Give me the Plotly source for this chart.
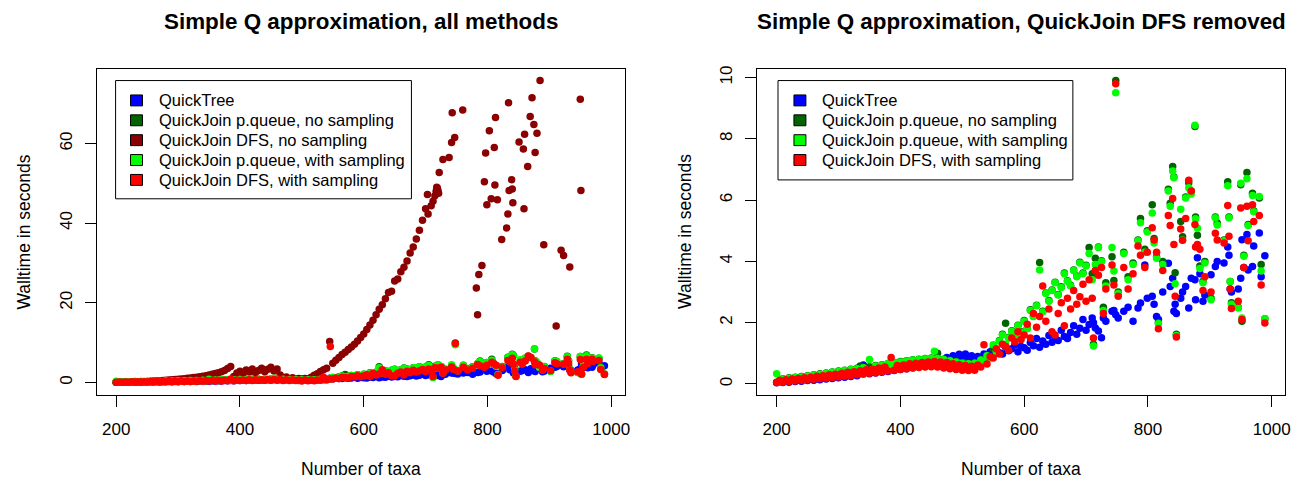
import plotly.graph_objects as go

# page is rendered with an 8px body margin, so the figure is placed at (8, 8)
OFF = 8
FW, FH = 1299 - OFF, 478 - OFF

# ---------------- data ----------------
# dense part: tree sizes 200..700 taxa
x_dense = [200, 205, 210, 215, 220, 225, 230, 235, 240, 245,
           250, 255, 260, 265, 270, 275, 280, 285, 290, 295,
           300, 305, 310, 315, 320, 325, 330, 335, 340, 345,
           350, 355, 360, 365, 370, 375, 380, 385, 390, 395,
           400, 405, 410, 415, 420, 425, 430, 435, 440, 445,
           450, 455, 460, 465, 470, 475, 480, 485, 490, 495,
           500, 505, 510, 515, 520, 525, 530, 535, 540, 545,
           550, 555, 560, 565, 570, 575, 580, 585, 590, 595,
           600, 605, 610, 615, 620, 625, 630, 635, 640, 645,
           650, 655, 660, 665, 670, 675, 680, 685, 690, 695,
           700]

quicktree_dense = [0.04, 0.08, 0.05, 0.10, 0.06, 0.12, 0.08, 0.13, 0.09, 0.15,
                   0.11, 0.17, 0.12, 0.19, 0.14, 0.21, 0.16, 0.23, 0.18, 0.25,
                   0.20, 0.28, 0.22, 0.30, 0.24, 0.33, 0.27, 0.36, 0.62, 0.38,
                   0.33, 0.41, 0.36, 0.44, 0.38, 0.47, 0.41, 0.50, 0.44, 0.53,
                   0.47, 0.56, 0.50, 0.59, 0.53, 0.62, 0.56, 0.65, 0.59, 0.68,
                   0.62, 0.72, 0.66, 0.78, 0.72, 0.86, 0.80, 0.92, 0.85, 0.97,
                   0.90, 0.98, 0.84, 0.92, 0.80, 0.90, 0.84, 0.98, 0.90, 1.05,
                   0.95, 1.12, 1.02, 0.98, 1.20, 1.08, 1.15, 1.28, 1.05, 1.22,
                   1.18, 1.10, 1.35, 1.25, 1.48, 1.20, 1.40, 1.30, 1.58, 1.36,
                   1.50, 1.42, 1.75, 1.55, 1.48, 1.68, 1.90, 1.62, 1.82, 2.10,
                   1.75]

pq_nosamp_dense = [0.06, 0.11, 0.17, 0.12, 0.20, 0.14, 0.22, 0.16, 0.24, 0.18,
                   0.27, 0.20, 0.30, 0.22, 0.33, 0.25, 0.36, 0.28, 0.39, 0.30,
                   0.42, 0.33, 0.45, 0.36, 0.48, 0.39, 0.51, 0.59, 0.54, 0.45,
                   0.56, 0.48, 0.60, 0.51, 0.63, 0.54, 0.67, 0.57, 0.70, 0.60,
                   0.73, 0.63, 0.76, 0.66, 0.79, 0.68, 0.81, 0.70, 0.83, 0.72,
                   0.85, 0.74, 1.00, 0.71, 0.81, 0.68, 0.77, 0.64, 0.73, 0.61,
                   0.69, 0.58, 0.67, 0.57, 0.69, 0.61, 0.79, 0.71, 0.93, 0.86,
                   1.15, 1.07, 1.42, 1.62, 1.98, 1.52, 1.74, 1.57, 1.92, 1.70,
                   2.07, 1.82, 2.42, 2.22, 2.57, 3.96, 2.37, 2.97, 2.72, 3.07,
                   3.32, 2.92, 3.17, 3.62, 3.37, 3.22, 3.72, 3.52, 3.97, 3.62,
                   3.87]

dfs_nosamp_dense = [0.04, 0.05, 0.06, 0.08, 0.10, 0.12, 0.14, 0.17, 0.20, 0.23,
                    0.26, 0.30, 0.34, 0.38, 0.43, 0.48, 0.54, 0.60, 0.66, 0.73,
                    0.80, 0.88, 0.96, 1.05, 1.14, 1.24, 1.34, 1.45, 1.56, 1.68,
                    1.90, 2.05, 2.25, 2.45, 2.70, 3.00, 3.50, 4.00, 1.50, 2.40,
                    2.80, 2.20, 3.10, 2.60, 3.40, 2.50, 3.00, 3.60, 2.70, 3.30,
                    3.80, 2.90, 3.40, 1.90, 1.10, 1.40, 0.90, 1.20, 0.70, 0.50,
                    0.45, 0.60, 0.90, 1.30, 1.80, 2.20, 2.75, 3.20, 3.60, 10.30,
                    4.80, 5.60, 6.30, 7.00, 7.60, 8.30, 8.90, 9.60, 10.40, 11.30,
                    12.20, 13.30, 14.40, 15.60, 17.00, 18.40, 19.50, 21.00, 22.60, 22.90,
                    25.50, 26.00, 27.80, 28.90, 30.50, 32.50, 34.00, 36.00, 38.20, 40.70,
                    43.60]

pq_samp_dense = [0.33, 0.10, 0.16, 0.11, 0.19, 0.13, 0.21, 0.15, 0.23, 0.17,
                 0.26, 0.19, 0.29, 0.21, 0.32, 0.24, 0.35, 0.27, 0.38, 0.29,
                 0.41, 0.32, 0.44, 0.35, 0.47, 0.38, 0.50, 0.41, 0.53, 0.44,
                 0.80, 0.47, 0.59, 0.50, 0.62, 0.53, 0.66, 0.56, 0.69, 0.59,
                 0.72, 0.62, 0.75, 0.65, 0.78, 0.67, 0.80, 0.69, 0.82, 0.71,
                 0.84, 1.07, 0.83, 0.70, 0.80, 0.67, 0.76, 0.63, 0.72, 0.60,
                 0.68, 0.57, 0.66, 0.56, 0.68, 0.60, 0.78, 0.70, 0.92, 0.85,
                 1.28, 1.05, 1.40, 1.60, 1.30, 1.50, 1.72, 1.55, 1.90, 1.68,
                 2.05, 1.80, 2.40, 2.20, 2.55, 3.72, 2.35, 2.95, 2.70, 3.05,
                 3.30, 2.90, 3.15, 3.60, 3.35, 3.20, 3.70, 3.50, 3.95, 3.60,
                 3.85]

dfs_samp_dense = [0.05, 0.12, 0.06, 0.14, 0.08, 0.16, 0.10, 0.18, 0.11, 0.20,
                  0.13, 0.22, 0.15, 0.25, 0.17, 0.27, 0.19, 0.30, 0.21, 0.32,
                  0.23, 0.35, 0.25, 0.38, 0.27, 0.40, 0.30, 0.43, 0.32, 0.46,
                  0.35, 0.48, 0.37, 0.52, 0.40, 0.55, 0.42, 0.86, 0.45, 0.60,
                  0.47, 0.62, 0.50, 0.66, 0.52, 0.68, 0.54, 0.70, 0.55, 0.72,
                  0.56, 0.73, 0.55, 0.72, 0.52, 0.70, 0.50, 0.66, 0.47, 0.63,
                  0.45, 0.60, 0.44, 0.58, 0.45, 0.62, 0.55, 1.28, 0.65, 0.90,
                  0.85, 1.15, 0.98, 1.30, 1.22, 1.10, 1.50, 1.38, 1.70, 1.45,
                  1.60, 1.95, 1.50, 2.30, 1.85, 2.20, 3.20, 2.05, 2.45, 1.70,
                  1.60, 2.30, 2.65, 1.90, 2.80, 2.45, 3.05, 2.60, 2.85, 3.25,
                  2.70]

# sparse part: tree sizes above 700 taxa
x_sparse = [705, 710, 712, 715, 720, 725, 728, 732, 742, 745, 748, 752,
            761, 768, 776, 784, 788, 795, 799, 807, 810, 814, 817, 824,
            833, 836, 840, 842, 844, 846, 853, 856, 861, 866, 870, 876,
            877, 880, 884, 889, 892, 902, 909, 912, 923, 929, 931, 933,
            935, 946, 950, 952, 955, 960, 962, 969, 971, 980, 983, 989]

quicktree_sparse = [1.94, 2.15, 2.00, 1.83, 1.73, 1.51, 2.15, 2.05, 2.37, 2.40, 2.26, 2.15,
                    2.37, 2.50, 2.05, 2.48, 2.64, 3.88, 2.80, 2.86, 2.60, 2.20, 2.10, 3.00,
                    3.94, 3.18, 3.45, 2.37, 2.60, 2.30, 2.80, 3.00, 3.18, 2.48, 3.45, 3.40,
                    2.75, 4.12, 3.60, 2.70, 2.90, 3.56, 3.83, 4.00, 3.95, 4.47, 4.20, 3.10,
                    3.00, 3.10, 3.45, 4.71, 3.80, 4.88, 3.72, 3.83, 4.50, 4.93, 3.50, 4.18]

pq_nosamp_sparse = [4.45, 3.60, 1.30, 4.10, 4.47, 4.02, 2.50, 3.30, 4.15, 3.38, 9.90, 3.00,
                    4.30, 3.50, 3.95, 4.70, 5.40, 4.40, 5.00, 5.85, 4.75, 4.15, 2.00, 4.00,
                    6.35, 5.90, 7.10, 6.75, 3.63, 1.62, 5.30, 4.80, 6.10, 6.57, 6.30, 8.40,
                    5.45, 4.85, 3.85, 3.35, 4.00, 2.80, 5.45, 5.25, 4.70, 6.60, 5.45, 3.34,
                    2.65, 2.50, 6.50, 2.05, 4.20, 6.90, 5.20, 6.22, 5.65, 6.07, 3.90, 2.13]

pq_samp_sparse = [4.26, 3.40, 1.24, 3.90, 4.45, 4.00, 2.40, 3.20, 4.45, 3.69, 9.50, 2.95,
                  4.26, 3.40, 3.90, 4.67, 5.26, 4.30, 4.96, 5.58, 4.60, 4.10, 1.97, 3.90,
                  6.30, 5.80, 6.95, 6.73, 3.27, 1.58, 5.70, 4.70, 6.07, 6.40, 6.20, 8.44,
                  5.39, 5.08, 3.77, 3.30, 3.95, 2.75, 5.42, 5.19, 4.67, 6.47, 5.42, 3.34,
                  2.60, 2.48, 6.55, 2.15, 4.17, 6.70, 5.17, 6.15, 5.62, 6.12, 3.69, 2.13]

dfs_samp_sparse = [3.40, 2.80, 1.50, 3.70, 3.55, 3.80, 2.30, 3.10, 3.88, 3.23, 9.80, 2.86,
                   3.80, 3.10, 3.60, 4.50, 4.20, 3.80, 4.30, 5.10, 4.70, 4.30, 1.80, 3.70,
                   5.50, 5.17, 6.05, 4.55, 2.86, 1.53, 5.06, 4.69, 5.40, 6.65, 6.30, 5.20,
                   4.47, 4.55, 4.40, 3.05, 3.50, 3.00, 4.92, 4.70, 4.60, 5.82, 4.82, 3.10,
                   2.46, 2.70, 5.74, 2.10, 3.80, 5.80, 4.67, 5.85, 5.30, 5.50, 3.23, 1.99]

# DFS without sampling above 700 taxa (only runs that finished)
dfs_nosamp_x_tail = [703, 704, 709, 712, 715, 717, 718, 719, 720, 721, 722, 728, 738, 742,
                     743, 747, 760, 782, 784, 786, 791, 795, 797, 799, 803, 806, 811,
                     812, 813, 816, 823, 831, 833, 834, 835, 839, 840, 841, 851, 858,
                     859, 860, 865, 869, 872, 875, 877, 880, 885, 891, 911, 919, 923,
                     933, 950, 951]
dfs_nosamp_y_tail = [47.2, 42.3, 44.4, 45.5, 46.9, 48.0, 49.0, 48.75, 48.2, 47.5, 52.75, 56.0,
                     56.5, 60.25, 67.75, 61.5, 68.4, 23.75, 17.0, 27.1, 29.4, 50.4, 57.6,
                     44.6, 63.2, 46.1, 59.0, 49.6, 66.5, 45.9, 35.9, 38.8, 42.3, 70.25,
                     48.2, 50.9, 48.6, 45.1, 60.4, 58.6, 43.6, 62.3, 54.2, 66.75, 71.5,
                     64.8, 57.75, 62.6, 75.8, 34.6, 14.2, 33.2, 31.9, 29.0, 71.1, 48.2]

# one DFS-with-sampling run that only appears in the left panel
dfs_samp_left_extra_x = [546]
dfs_samp_left_extra_y = [9.0]

series_names = ["QuickTree",
                "QuickJoin p.queue, no sampling",
                "QuickJoin DFS, no sampling",
                "QuickJoin p.queue, with sampling",
                "QuickJoin DFS, with sampling"]
series_colors = ["#0000FF", "#006400", "#8B0000", "#00FF00", "#FF0000"]

panel_titles = ["Simple Q approximation, all methods",
                "Simple Q approximation, QuickJoin DFS removed"]
x_label = "Number of taxa"
y_label = "Walltime in seconds"
x_ticks = [200, 400, 600, 800, 1000]
y_ticks_left = [0, 20, 40, 60]
y_ticks_right = [0, 2, 4, 6, 8, 10]

# ---------------- figure ----------------
FONT = "Liberation Sans, Arial, Helvetica, sans-serif"
MSIZE = 7.5

x_all = x_dense + x_sparse
qt_all = quicktree_dense + quicktree_sparse
pqns_all = pq_nosamp_dense + pq_nosamp_sparse
pqs_all = pq_samp_dense + pq_samp_sparse
dfss_all = dfs_samp_dense + dfs_samp_sparse
dfsns_x = x_dense + dfs_nosamp_x_tail
dfsns_y = dfs_nosamp_dense + dfs_nosamp_y_tail

left_data = [
    (x_all, qt_all, 0),
    (x_all, pqns_all, 1),
    (dfsns_x, dfsns_y, 2),
    (x_all, pqs_all, 3),
    (x_all + dfs_samp_left_extra_x, dfss_all + dfs_samp_left_extra_y, 4),
]
right_data = [
    (x_all, qt_all, 0),
    (x_all, pqns_all, 1),
    (x_all, pqs_all, 3),
    (x_all, dfss_all, 4),
]

fig = go.Figure()
for xs, ys, k in left_data:
    fig.add_trace(go.Scatter(x=xs, y=ys, mode="markers", name=series_names[k],
                             marker=dict(color=series_colors[k], size=MSIZE, line=dict(width=0)),
                             xaxis="x", yaxis="y", showlegend=False))
for xs, ys, k in right_data:
    fig.add_trace(go.Scatter(x=xs, y=ys, mode="markers", name=series_names[k],
                             marker=dict(color=series_colors[k], size=MSIZE, line=dict(width=0)),
                             xaxis="x2", yaxis="y2", showlegend=False))

# screen pixel -> paper coordinate
def px2x(px):
    return (px - OFF) / FW

def py2y(py):
    return 1 - (py - OFF) / FH

box_top, box_bot = 66, 394
panels = [(97, 627), (760, 1290)]

axis_common = dict(showline=True, mirror=True, linecolor="black", linewidth=1,
                   ticks="outside", ticklen=11, tickwidth=1, tickcolor="black",
                   showgrid=False, zeroline=False,
                   tickfont=dict(family=FONT, size=17, color="black"))

fig.update_layout(
    width=FW, height=FH, autosize=False,
    margin=dict(l=0, r=0, t=0, b=0),
    paper_bgcolor="white", plot_bgcolor="white",
    font=dict(family=FONT, color="black"),
    xaxis=dict(domain=[px2x(97), px2x(627)], range=[168.4, 1021.6], anchor="y",
               tickvals=x_ticks, ticklabelstandoff=8, **axis_common),
    yaxis=dict(domain=[py2y(box_bot), py2y(box_top)], range=[-3.03, 78.8], anchor="x",
               tickvals=y_ticks_left, tickangle=-90, ticklabelstandoff=6, **axis_common),
    xaxis2=dict(domain=[px2x(760), px2x(1290)], range=[168.4, 1021.6], anchor="y2",
                tickvals=x_ticks, ticklabelstandoff=8, **axis_common),
    yaxis2=dict(domain=[py2y(box_bot), py2y(box_top)], range=[-0.345, 10.29], anchor="x2",
                tickvals=y_ticks_right, tickangle=-90, ticklabelstandoff=6, **axis_common),
)

annotations = []
shapes = []
for i, (x0, x1) in enumerate(panels):
    cx = (x0 + x1) / 2
    annotations.append(dict(text="<b>%s</b>" % panel_titles[i], x=px2x(cx), y=py2y(19),
                            xref="paper", yref="paper", xanchor="center", yanchor="middle",
                            showarrow=False, font=dict(family=FONT, size=22.4, color="black")))
    annotations.append(dict(text=x_label, x=px2x(cx), y=py2y(469),
                            xref="paper", yref="paper", xanchor="center", yanchor="middle",
                            showarrow=False, font=dict(family=FONT, size=17.5, color="black")))
    annotations.append(dict(text=y_label, x=px2x(x0 - 73), y=py2y((box_top + box_bot) / 2),
                            xref="paper", yref="paper", xanchor="center", yanchor="middle",
                            textangle=-90, showarrow=False,
                            font=dict(family=FONT, size=17.5, color="black")))

# R-style legends (filled squares with black outline inside a framed box)
legend_specs = [
    dict(box=(116, 413, 78, 197), sq_x=131, txt_x=158, items=[0, 1, 2, 3, 4]),
    dict(box=(781, 1077, 78, 178), sq_x=797, txt_x=823, items=[0, 1, 3, 4]),
]
for spec in legend_specs:
    bx0, bx1, by0, by1 = spec["box"]
    shapes.append(dict(type="rect", xref="paper", yref="paper",
                       x0=px2x(bx0), x1=px2x(bx1), y0=py2y(by1), y1=py2y(by0),
                       line=dict(color="black", width=1), fillcolor="white", layer="above"))
    for r, k in enumerate(spec["items"]):
        yc = 98 + 20 * r
        shapes.append(dict(type="rect", xref="paper", yref="paper",
                           x0=px2x(spec["sq_x"]), x1=px2x(spec["sq_x"] + 12),
                           y0=py2y(yc + 5.5), y1=py2y(yc - 5.5),
                           line=dict(color="black", width=1), fillcolor=series_colors[k],
                           layer="above"))
        annotations.append(dict(text=series_names[k], x=px2x(spec["txt_x"]), y=py2y(yc),
                                xref="paper", yref="paper", xanchor="left", yanchor="middle",
                                showarrow=False,
                                font=dict(family=FONT, size=16.5, color="black")))

fig.update_layout(annotations=annotations, shapes=shapes)
fig.write_html("out.html")
